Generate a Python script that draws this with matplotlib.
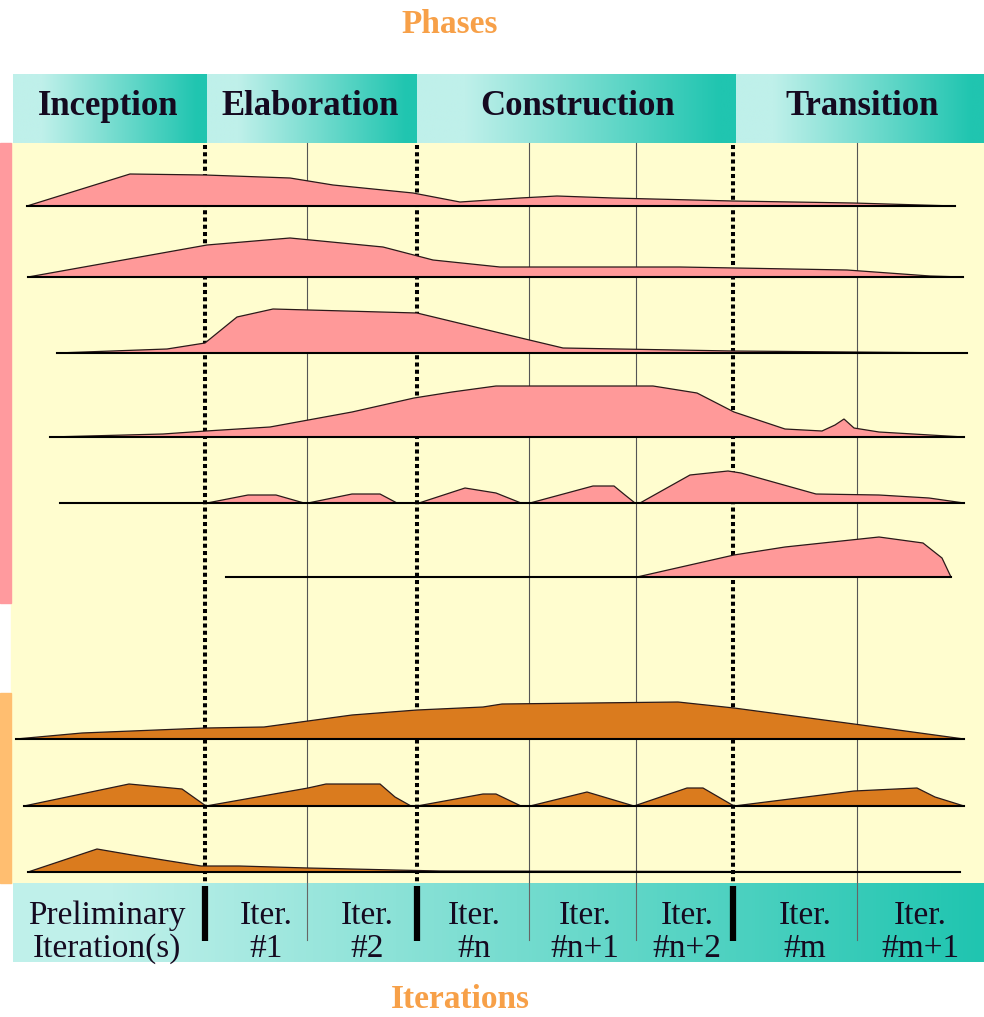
import numpy as np
import matplotlib
matplotlib.use("Agg")
from matplotlib import pyplot as plt
from matplotlib.colors import LinearSegmentedColormap

plt.rcParams["font.family"] = ["Liberation Serif", "DejaVu Serif"]

# --- phases / iterations ---
PHASES = ["Inception", "Elaboration", "Construction", "Transition"]
PHASE_EDGES = [13, 207, 417, 736, 984]
PHASE_LABEL_X = [108, 310, 578, 862]

ITERATIONS = ["Preliminary\nIteration(s)", "Iter.\n#1", "Iter.\n#2", "Iter.\n#n",
              "Iter.\n#n+1", "Iter.\n#n+2", "Iter.\n#m", "Iter.\n#m+1"]
ITER_LABEL_X = [107, 266, 367, 474, 585, 687, 805, 920]

PHASE_BOUNDS = [205, 417, 733]
ITER_BOUNDS = [307, 529, 636, 857]

# --- discipline humps: time positions and heights above baseline ---
row1_x = [27, 130, 205, 290, 333, 413, 460, 520, 557, 613, 733, 853, 955]
row1_h = [0, 32, 31, 28, 21, 13, 4, 8, 10, 8, 5, 3, 0]

row2_x = [28, 207, 290, 383, 433, 500, 680, 847, 930, 963]
row2_h = [0, 32, 39, 30, 17, 10, 10, 7, 1, 0]

row3_x = [57, 167, 205, 237, 273, 417, 500, 563, 733, 967]
row3_h = [0, 4, 10, 36, 44, 40, 20, 5, 2, 0]

row4_x = [50, 163, 206, 270, 352, 414, 452, 496, 653, 697, 734, 785, 822,
          835, 844, 854, 879, 964]
row4_h = [0, 3, 6, 10, 25, 39, 45, 51, 51, 44, 25, 8, 6, 12, 18, 9, 5, 0]

row5_x = [60, 207, 248, 276, 304, 308, 352, 380, 397, 419, 465, 496, 521,
          530, 593, 614, 625, 635, 640, 690, 728, 741, 816, 879, 929, 964]
row5_h = [0, 0, 8, 8, 0, 0, 9, 9, 0, 0, 15, 10, 0,
          0, 17, 17, 8, 0, 0, 28, 32, 30, 9, 8, 5, 0]

row6_x = [226, 637, 734, 785, 879, 923, 942, 951]
row6_h = [0, 0, 22, 30, 40, 34, 19, 0]

row7_x = [16, 82, 206, 264, 352, 417, 483, 502, 678, 734, 854, 964]
row7_h = [0, 6, 11, 12, 24, 29, 32, 35, 37, 31, 15, 0]

row8_x = [24, 129, 182, 206, 308, 326, 380, 395, 411, 417, 483, 496, 521,
          530, 587, 634, 687, 703, 734, 854, 917, 935, 964]
row8_h = [0, 22, 17, 0, 18, 22, 22, 9, 0, 0, 12, 12, 0,
          0, 14, 0, 18, 18, 0, 15, 18, 9, 0]

row9_x = [28, 97, 132, 201, 239, 308, 395, 440, 960]
row9_h = [0, 23, 17, 6, 6, 4, 2, 1, 0]

PINK = "#FF9999"
ORANGE = "#DA7B1E"
YELLOW = "#FFFDCF"
LIGHT = "#BFF0EA"
TEAL = "#20C5B0"
TITLE = "#F7A048"
TEXT = "#150A20"

rows = [
    (row1_x, row1_h, 206, PINK),
    (row2_x, row2_h, 277, PINK),
    (row3_x, row3_h, 353, PINK),
    (row4_x, row4_h, 437, PINK),
    (row5_x, row5_h, 503, PINK),
    (row6_x, row6_h, 577, PINK),
    (row7_x, row7_h, 739, ORANGE),
    (row8_x, row8_h, 806, ORANGE),
    (row9_x, row9_h, 872, ORANGE),
]

fig = plt.figure(figsize=(9.84, 10.17), dpi=100)
ax = fig.add_axes([0, 0, 1, 1])
ax.set_xlim(0, 984)
ax.set_ylim(1017, 0)
ax.axis("off")

cmap = LinearSegmentedColormap.from_list(
    "rup", [(0.0, LIGHT), (0.15, LIGHT), (0.95, TEAL), (1.0, TEAL)], N=256)
grad = np.linspace(0, 1, 256).reshape(1, -1)

# background of the hump area + discipline bars
ax.add_patch(plt.Rectangle((11, 143), 973, 740, color=YELLOW, zorder=0))
ax.add_patch(plt.Rectangle((0, 143), 11, 460, color="#FF9A9E", zorder=0))
ax.add_patch(plt.Rectangle((0, 693), 11, 190, color="#FFBE70", zorder=0))

# phase header
for i, name in enumerate(PHASES):
    x0, x1 = PHASE_EDGES[i], PHASE_EDGES[i + 1]
    ax.imshow(grad, extent=[x0, x1, 143, 74], cmap=cmap, aspect="auto",
              interpolation="bilinear", zorder=1)
    ax.text(PHASE_LABEL_X[i], 115, name, ha="center", va="baseline",
            fontsize=25, fontweight="bold", color=TEXT, zorder=3)

# iteration band
cmap2 = LinearSegmentedColormap.from_list(
    "it", [(0.0, LIGHT), (0.1, LIGHT), (1.0, TEAL)], N=256)
ax.imshow(grad, extent=[13, 984, 962, 883], cmap=cmap2, aspect="auto",
          interpolation="bilinear", zorder=1)
for x, label in zip(ITER_LABEL_X, ITERATIONS):
    ax.text(x, 957, label, ha="center", va="baseline", fontsize=24,
            linespacing=1.1, color=TEXT, zorder=3)

# vertical separators
for x in PHASE_BOUNDS:
    ax.plot([x, x], [145, 882], color="black", lw=2.9,
            linestyle=(0, (1.0, 0.8)), dash_capstyle="butt", zorder=2)
    ax.plot([x, x], [886, 941], color="black", lw=4.5,
            solid_capstyle="butt", zorder=3)
for x in ITER_BOUNDS:
    ax.plot([x, x], [143, 882], color="#555555", lw=0.8, zorder=2)
    ax.plot([x, x], [883, 940], color="#666666", lw=0.8, zorder=3)

# humps
for xs, hs, base, col in rows:
    xs = np.asarray(xs, dtype=float)
    ys = base - np.asarray(hs, dtype=float)
    ax.fill(xs, ys, facecolor=col, edgecolor="#2a1a1a", lw=0.9, zorder=4)
    ax.plot([xs.min(), xs.max()], [base, base], color="black", lw=1.5, zorder=5)

ax.set_xlim(0, 984)
ax.set_ylim(1017, 0)

fig.text(450 / 984, 1 - 33 / 1017, "Phases", ha="center", va="baseline",
         fontsize=24, fontweight="bold", color=TITLE)
fig.text(460 / 984, 1 - 1008 / 1017, "Iterations", ha="center", va="baseline",
         fontsize=24, fontweight="bold", color=TITLE)

fig.savefig("out.png", dpi=100)
